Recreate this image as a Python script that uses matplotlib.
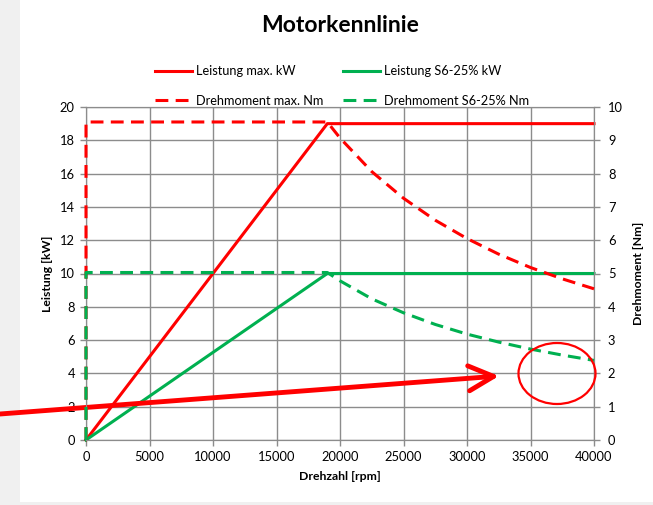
import matplotlib
matplotlib.use('Agg')
import matplotlib.pyplot as plt
from matplotlib.patches import Ellipse, Rectangle

plt.rcParams['font.family'] = ['Lato', 'DejaVu Sans']

# Leistung (kW) over Drehzahl
rpm_power = [0, 19000, 40000]
p_max = [0, 19, 19]
p_s6 = [0, 10, 10]

# Drehmoment (Nm) over Drehzahl
rpm_torque = [0, 0, 19000, 20000, 22500, 25000, 27500, 30000, 32500, 35000, 37500, 40000]
t_max = [0, 9.55, 9.55, 9.07, 8.06, 7.26, 6.60, 6.05, 5.58, 5.18, 4.84, 4.54]
t_s6 = [0, 5.03, 5.03, 4.78, 4.24, 3.82, 3.47, 3.18, 2.94, 2.73, 2.55, 2.39]

red = '#ff0000'
green = '#00b050'
gridc = '#8c8c8c'

W, H = 653, 505
fig = plt.figure(figsize=(W / 100, H / 100), dpi=100)
fig.patch.set_facecolor('#f0f0f0')
fig.add_artist(Rectangle((20 / W, 3 / H), 1, 1, transform=fig.transFigure,
                         facecolor='white', edgecolor='none', zorder=-10))

ax = fig.add_axes([86 / W, 1 - 440 / H, 508 / W, 333 / H])
ax2 = ax.twinx()

l1, = ax.plot(rpm_power, p_max, color=red, lw=2.2, label='Leistung max. kW',
              clip_on=False, zorder=3)
l3, = ax.plot(rpm_power, p_s6, color=green, lw=2.2, label='Leistung S6-25% kW',
              clip_on=False, zorder=3)
l2, = ax2.plot(rpm_torque, t_max, color=red, lw=2.2, dashes=(4.2, 2.4),
               label='Drehmoment max. Nm', clip_on=False, zorder=3)
l4, = ax2.plot(rpm_torque, t_s6, color=green, lw=2.2, dashes=(4.2, 2.4),
               label='Drehmoment S6-25% Nm', clip_on=False, zorder=3)

ax.set_xlim(0, 40000)
ax.set_ylim(0, 20)
ax2.set_ylim(0, 10)
ax.set_xticks(range(0, 40001, 5000))
ax.set_yticks(range(0, 21, 2))
ax2.set_yticks(range(0, 11, 1))
ax.grid(True, color=gridc, lw=1)
ax.set_axisbelow(True)

for a in (ax, ax2):
    for s in a.spines.values():
        s.set_color(gridc)
        s.set_zorder(1)
    a.tick_params(colors=gridc, labelcolor='black', labelsize=9.3, length=4, width=1)
ax.tick_params(axis='x', pad=4)
ax.tick_params(axis='y', pad=4)
ax2.tick_params(axis='y', pad=6)

ax.set_xlabel('Drehzahl [rpm]', fontsize=8.8, fontweight='bold', labelpad=6)
ax.set_ylabel('Leistung [kW]', fontsize=8.8, fontweight='bold', labelpad=5)
ax2.set_ylabel('Drehmoment [Nm]', fontsize=8.8, fontweight='bold', labelpad=7)

fig.text(340 / W, 1 - 25 / H, 'Motorkennlinie', ha='center', va='center',
         fontsize=16.5, fontweight='bold')

fig.legend(handles=[l1, l2, l3, l4], loc='center', bbox_to_anchor=(342 / W, 1 - 86 / H),
           ncol=2, frameon=False, fontsize=9.2, handlelength=2.9, handletextpad=0.3,
           columnspacing=1.5, labelspacing=1.4)

# red annotation: arrow and circle
fig.add_artist(Ellipse((557 / W, 1 - 373.5 / H), 77 / W, 61 / H, transform=fig.transFigure,
                       fill=False, edgecolor=red, lw=1.6, zorder=20))
ax.annotate('', xy=(499, H - 376), xycoords='figure pixels',
            xytext=(0, H - 414), textcoords='figure pixels',
            arrowprops=dict(arrowstyle='->,head_length=0.9,head_width=0.45', color=red,
                            lw=3.5, mutation_scale=20, shrinkA=0, shrinkB=0),
            annotation_clip=False, zorder=20)

fig.savefig('out.png', dpi=100, facecolor=fig.get_facecolor())
